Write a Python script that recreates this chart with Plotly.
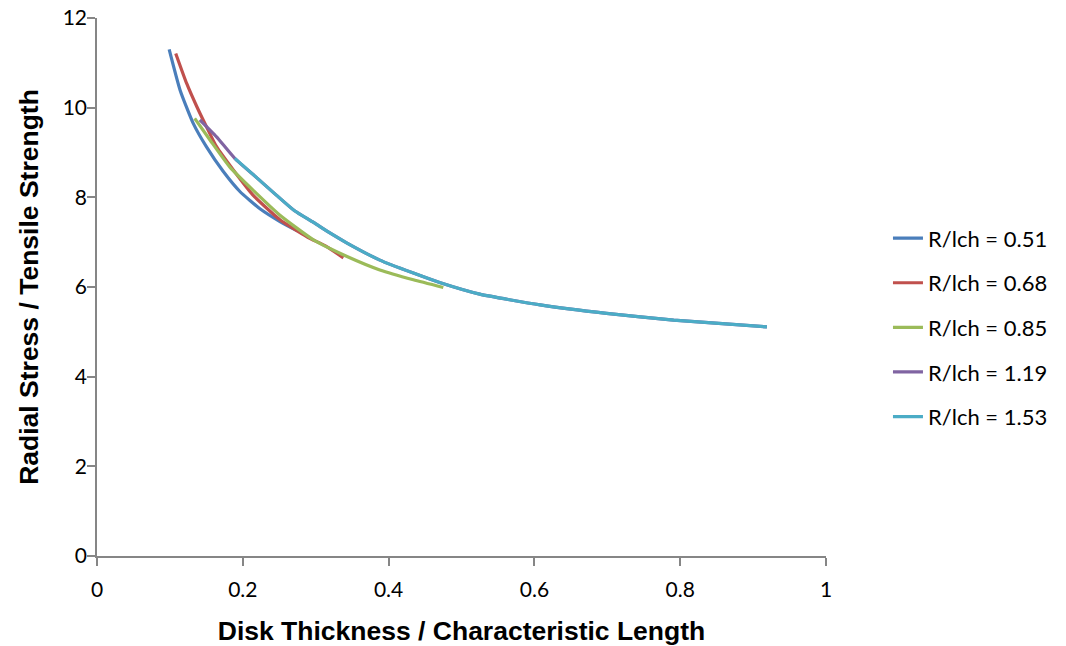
import plotly.graph_objects as go

# R/lch = 0.51
x_051 = [0.099, 0.114, 0.132, 0.150, 0.173, 0.196, 0.224, 0.251, 0.275]
y_051 = [11.30, 10.39, 9.65, 9.13, 8.58, 8.13, 7.74, 7.46, 7.25]
# R/lch = 0.68
x_068 = [0.108, 0.123, 0.137, 0.150, 0.164, 0.187, 0.214, 0.251, 0.288, 0.315, 0.338]
y_068 = [11.21, 10.54, 10.02, 9.58, 9.13, 8.61, 8.05, 7.50, 7.12, 6.90, 6.65]
# R/lch = 0.85
x_085 = [0.134, 0.155, 0.182, 0.214, 0.251, 0.297, 0.343, 0.388, 0.434, 0.475]
y_085 = [9.76, 9.28, 8.68, 8.16, 7.60, 7.05, 6.68, 6.38, 6.16, 5.99]
# R/lch = 1.19
x_119 = [0.141, 0.164, 0.189, 0.219, 0.246, 0.271, 0.297, 0.320, 0.343, 0.388, 0.434,
         0.470, 0.525, 0.608, 0.699, 0.791, 0.919]
y_119 = [9.73, 9.35, 8.87, 8.44, 8.05, 7.70, 7.44, 7.20, 6.98, 6.60, 6.31,
         6.10, 5.84, 5.60, 5.41, 5.26, 5.11]
# R/lch = 1.53
x_153 = [0.189, 0.219, 0.246, 0.271, 0.297, 0.320, 0.343, 0.388, 0.434,
         0.470, 0.525, 0.608, 0.699, 0.791, 0.919]
y_153 = [8.87, 8.44, 8.05, 7.70, 7.44, 7.20, 6.98, 6.60, 6.31,
         6.10, 5.84, 5.60, 5.41, 5.26, 5.11]

series = [
    ("R/lch = 0.51", x_051, y_051, "#4A7EBB"),
    ("R/lch = 0.68", x_068, y_068, "#C0504D"),
    ("R/lch = 0.85", x_085, y_085, "#9BBB59"),
    ("R/lch = 1.19", x_119, y_119, "#8064A2"),
    ("R/lch = 1.53", x_153, y_153, "#4BACC6"),
]

x_ticks = [0, 0.2, 0.4, 0.6, 0.8, 1]
x_tick_labels = ["0", "0.2", "0.4", "0.6", "0.8", "1"]
y_ticks = [0, 2, 4, 6, 8, 10, 12]

fig = go.Figure()
for i, (name, xs, ys, color) in enumerate(series):
    fig.add_trace(go.Scatter(
        x=xs, y=ys, name=name, mode="lines", legendgroup=str(i),
        line=dict(color=color, width=3.2, shape="spline", smoothing=0.5),
    ))

axis_common = dict(
    showgrid=False, zeroline=False, showline=True, linecolor="#868686", linewidth=1.5,
    ticks="outside", ticklen=8, tickwidth=1.5, tickcolor="#868686", automargin=False,
    ticklabeloverflow="allow",
    tickfont=dict(family="Lato, Carlito, sans-serif", size=21, color="#000000"),
)
title_font = dict(family="Liberation Sans, Arial", size=26.5, color="#000000", weight="bold")

fig.update_layout(
    width=1066, height=646,
    paper_bgcolor="white", plot_bgcolor="white",
    margin=dict(l=97, r=240, t=18, b=90),
    xaxis=dict(range=[0, 1], tickvals=x_ticks, ticktext=x_tick_labels,
               ticklabelstandoff=6,
               title=dict(text="Disk Thickness / Characteristic Length",
                          font=title_font, standoff=24),
               **axis_common),
    yaxis=dict(range=[0, 12], tickvals=y_ticks, ticklabelstandoff=-4,
               title=dict(text="Radial Stress / Tensile Strength",
                          font=title_font, standoff=16),
               **axis_common),
    legend=dict(x=1.085, y=0.425, xanchor="left", yanchor="middle",
                font=dict(family="Lato, Carlito, sans-serif", size=22, color="#000000"),
                traceorder="grouped", tracegroupgap=13, bgcolor="rgba(0,0,0,0)"),
    showlegend=True,
)

fig.write_html("out.html", config={"displayModeBar": False},
               post_script="document.body.style.margin='0';")
